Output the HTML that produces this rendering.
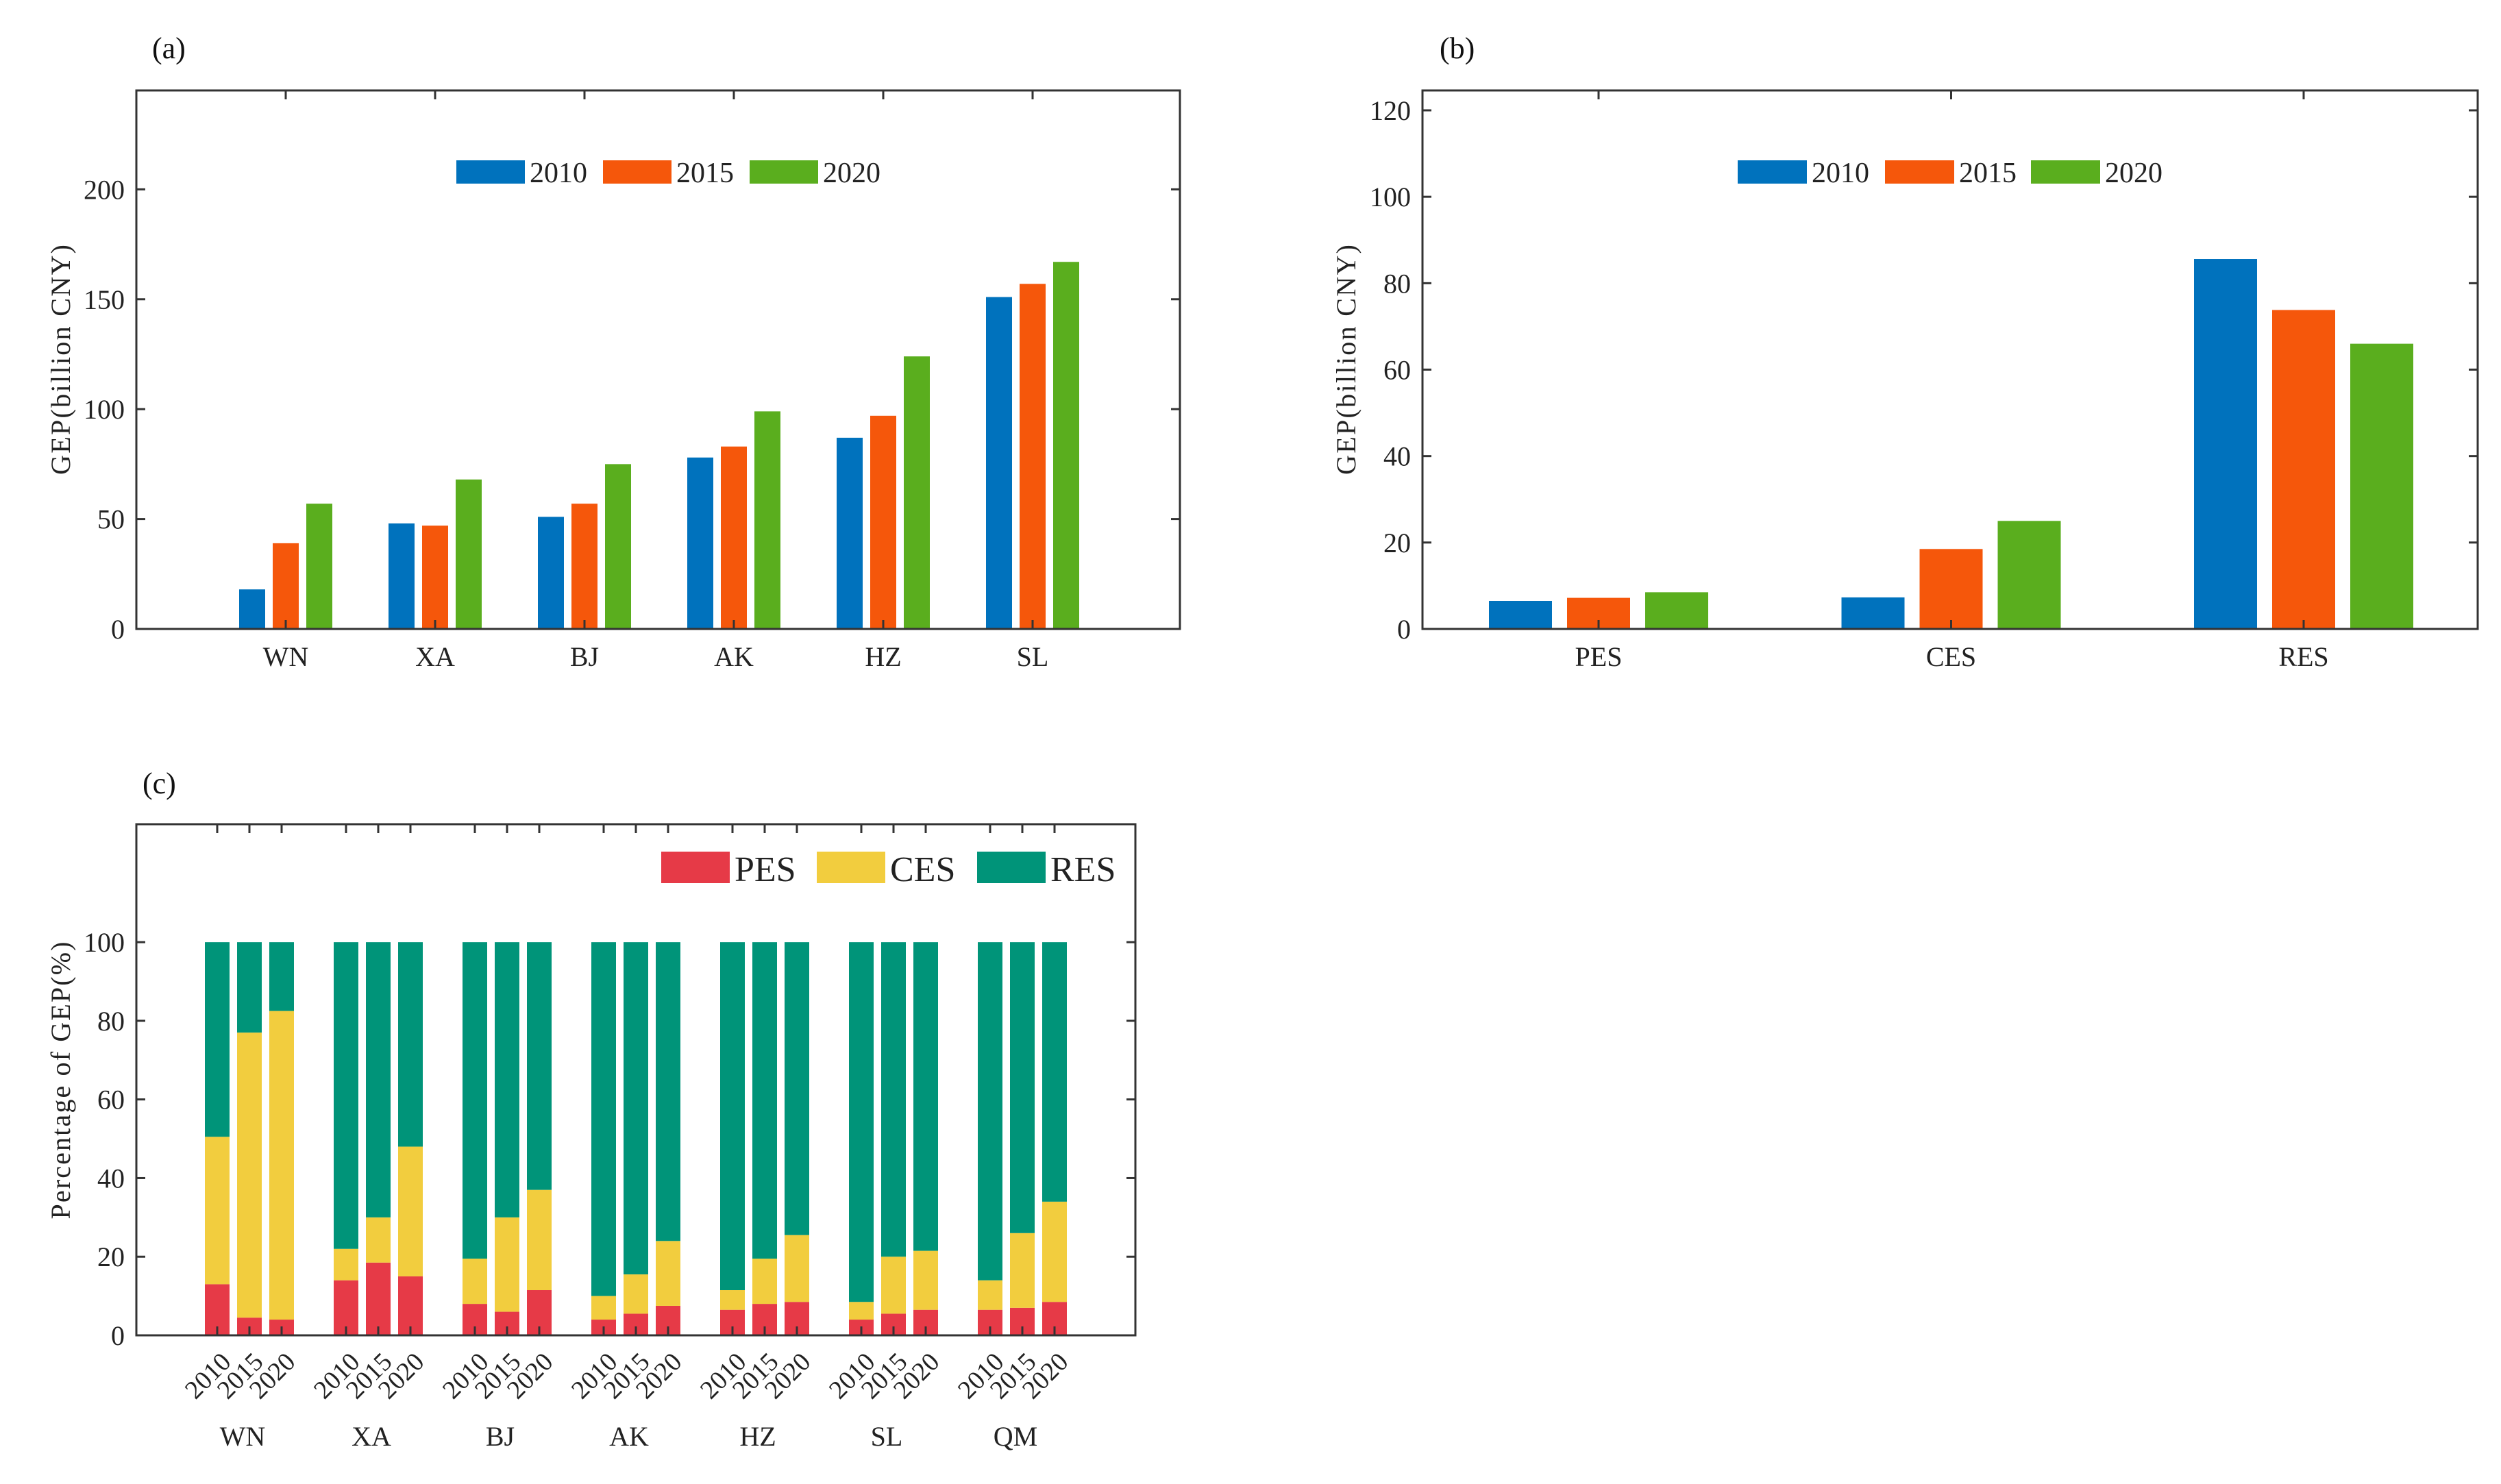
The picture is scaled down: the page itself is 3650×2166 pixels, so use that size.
<!DOCTYPE html>
<html><head><meta charset="utf-8">
<style>
html,body{margin:0;padding:0;background:#fff;}
svg{display:block;font-family:"Liberation Serif","Times New Roman",serif;}
</style></head>
<body>
<svg id="fig" width="3650" height="2166" viewBox="0 0 3650 2166" xmlns="http://www.w3.org/2000/svg">
<rect width="3650" height="2166" fill="#fff"/>
</svg>
<script>
// ---- Panel (a) data ----
const catsA = ["WN","XA","BJ","AK","HZ","SL"];
const yearsA = ["2010","2015","2020"];
const a2010 = [18, 48, 51, 78, 87, 151];
const a2015 = [39, 47, 57, 83, 97, 157];
const a2020 = [57, 68, 75, 99, 124, 167];
const ticksA = [0, 50, 100, 150, 200];
// ---- Panel (b) data ----
const catsB = ["PES","CES","RES"];
const b2010 = [6.5, 7.3, 85.6];
const b2015 = [7.2, 18.5, 73.8];
const b2020 = [8.5, 25, 66];
const ticksB = [0, 20, 40, 60, 80, 100, 120];
// ---- Panel (c) data ----
const catsC = ["WN","XA","BJ","AK","HZ","SL","QM"];
const yearsC = ["2010","2015","2020"];
const pesC = [13,4.5,4, 14,18.5,15, 8,6,11.5, 4,5.5,7.5, 6.5,8,8.5, 4,5.5,6.5, 6.5,7,8.5];
const cesC = [37.5,72.5,78.5, 8,11.5,33, 11.5,24,25.5, 6,10,16.5, 5,11.5,17, 4.5,14.5,15, 7.5,19,25.5];
const ticksC = [0, 20, 40, 60, 80, 100];

const NS = "http://www.w3.org/2000/svg";
const svg = document.getElementById("fig");
function el(tag, attrs, parent) {
  const e = document.createElementNS(NS, tag);
  for (const k in attrs) e.setAttribute(k, attrs[k]);
  (parent || svg).appendChild(e);
  return e;
}
function txt(s, attrs, parent) { const t = el("text", attrs, parent); t.textContent = s; return t; }

const AX = "#333";
function frame(g, L, R, T, B) {
  const r = el("rect", {x:L, y:T, width:R-L, height:B-T, fill:"none", stroke:AX, "stroke-width":3}, g);
  
  
}

// ================= Panel (a) =================
(function(){
  const g = el("g", {});
  
  
  const L=199, R=1722, T=132, B=918, ymax=245;
  const y = v => B - v/ymax*(B-T);
  const x0 = 417, dx = 218;
  const xc = i => x0 + i*dx;
  const lab = txt("(a)", {x:222, y:85, "font-size":44, fill:"#111"}, g);
  
  
  const series = [a2010, a2015, a2020];
  const cols = ["#0072BD", "#F5570B", "#5AAE1E"];
  series.forEach((s, k) => {
    s.forEach((v, i) => {
      const r = el("rect", {x: xc(i) + (k-1)*49 - 19, y: y(v), width: 38, height: B - y(v), fill: cols[k]}, g);
      
      
    });
  });
  frame(g, L, R, T, B);
  ticksA.forEach(t => {
    el("line", {x1:L, x2:L+13, y1:y(t), y2:y(t), stroke:AX, "stroke-width":3}, g);
    el("line", {x1:R, x2:R-13, y1:y(t), y2:y(t), stroke:AX, "stroke-width":3}, g);
    const tl = txt(String(t), {x:L-17, y:y(t)+14, "font-size":40, "text-anchor":"end", fill:"#222"}, g);
    
    
  });
  catsA.forEach((c, i) => {
    el("line", {x1:xc(i), x2:xc(i), y1:B, y2:B-13, stroke:"#333", "stroke-width":3}, g);
    el("line", {x1:xc(i), x2:xc(i), y1:T, y2:T+13, stroke:AX, "stroke-width":3}, g);
    const cl = txt(c, {x:xc(i), y:972, "font-size":40, "text-anchor":"middle", fill:"#222"}, g);
    
    
  });
  const yl = txt("GEP(billion CNY)", {x:0, y:0, "font-size":40, "text-anchor":"middle", fill:"#222", textLength:336, transform:"translate(102,525) rotate(-90)"}, g);
  
  
  const lx = [666, 880, 1094];
  yearsA.forEach((yr, k) => {
    const lr = el("rect", {x:lx[k], y:234, width:100, height:34, fill:cols[k]}, g);
    
    
    const lt = txt(yr, {x:lx[k]+107, y:266, "font-size":42, fill:"#222"}, g);
    
    
  });
})();

// ================= Panel (b) =================
(function(){
  const g = el("g", {});
  
  
  const L=2076, R=3616, T=132, B=918, ymax=124.6;
  const y = v => B - v/ymax*(B-T);
  const x0 = 2333, dx = 514.5;
  const xc = i => x0 + i*dx;
  const lab = txt("(b)", {x:2101, y:85, "font-size":44, fill:"#111"}, g);
  
  
  const series = [b2010, b2015, b2020];
  const cols = ["#0072BD", "#F5570B", "#5AAE1E"];
  series.forEach((s, k) => {
    s.forEach((v, i) => {
      const r = el("rect", {x: xc(i) + (k-1)*114 - 46, y: y(v), width: 92, height: B - y(v), fill: cols[k]}, g);
      
      
    });
  });
  frame(g, L, R, T, B);
  ticksB.forEach(t => {
    el("line", {x1:L, x2:L+13, y1:y(t), y2:y(t), stroke:AX, "stroke-width":3}, g);
    el("line", {x1:R, x2:R-13, y1:y(t), y2:y(t), stroke:AX, "stroke-width":3}, g);
    const tl = txt(String(t), {x:L-17, y:y(t)+14, "font-size":40, "text-anchor":"end", fill:"#222"}, g);
    
    
  });
  catsB.forEach((c, i) => {
    el("line", {x1:xc(i), x2:xc(i), y1:B, y2:B-13, stroke:"#333", "stroke-width":3}, g);
    el("line", {x1:xc(i), x2:xc(i), y1:T, y2:T+13, stroke:AX, "stroke-width":3}, g);
    const cl = txt(c, {x:xc(i), y:972, "font-size":40, "text-anchor":"middle", fill:"#222"}, g);
    
    
  });
  const yl = txt("GEP(billion CNY)", {x:0, y:0, "font-size":40, "text-anchor":"middle", fill:"#222", textLength:336, transform:"translate(1978,525) rotate(-90)"}, g);
  
  
  const lx = [2536, 2751, 2964];
  yearsA.forEach((yr, k) => {
    const lr = el("rect", {x:lx[k], y:234, width:101, height:34, fill:cols[k]}, g);
    
    
    const lt = txt(yr, {x:lx[k]+108, y:266, "font-size":42, fill:"#222"}, g);
    
    
  });
})();

// ================= Panel (c) =================
(function(){
  const g = el("g", {});
  
  
  const L=199, R=1657, T=1203, B=1949, ymax=130;
  const y = v => B - v/ymax*(B-T);
  const x0 = 317, unit = 47;
  const xb = j => x0 + (Math.floor(j/3)*4 + (j%3))*unit;
  const lab = txt("(c)", {x:208, y:1158, "font-size":44, fill:"#111"}, g);
  
  
  const cols = ["#E63A47", "#F2CD3E", "#009479"];
  pesC.forEach((p, j) => {
    const c = cesC[j];
    const segs = [[0, p], [p, p+c], [p+c, 100]];
    const names = ["pes","ces","res"];
    segs.forEach((s, k) => {
      const r = el("rect", {x: xb(j)-18, y: y(s[1]), width: 36, height: y(s[0]) - y(s[1]), fill: cols[k]}, g);
      
      
    });
  });
  frame(g, L, R, T, B);
  ticksC.forEach(t => {
    el("line", {x1:L, x2:L+13, y1:y(t), y2:y(t), stroke:AX, "stroke-width":3}, g);
    el("line", {x1:R, x2:R-13, y1:y(t), y2:y(t), stroke:AX, "stroke-width":3}, g);
    const tl = txt(String(t), {x:L-17, y:y(t)+14, "font-size":40, "text-anchor":"end", fill:"#222"}, g);
    
    
  });
  pesC.forEach((p, j) => {
    const xx = xb(j);
    el("line", {x1:xx, x2:xx, y1:B, y2:B-13, stroke:"#333", "stroke-width":3}, g);
    el("line", {x1:xx, x2:xx, y1:T, y2:T+13, stroke:AX, "stroke-width":3}, g);
    const yt = txt(yearsC[j%3], {x:0, y:0, "font-size":38, "text-anchor":"end", fill:"#222", transform:"translate(" + (xx+22) + ",1990) rotate(-45)"}, g);
    
    
  });
  catsC.forEach((c, i) => {
    const cl = txt(c, {x:xb(i*3+1)-10, y:2110, "font-size":40, "text-anchor":"middle", fill:"#222"}, g);
    
    
  });
  const yl = txt("Percentage of GEP(%)", {x:0, y:0, "font-size":40, "text-anchor":"middle", fill:"#222", textLength:405, transform:"translate(102,1577) rotate(-90)"}, g);
  
  
  const lnames = ["PES","CES","RES"];
  const lx = [965, 1192, 1426];
  lnames.forEach((n, k) => {
    const lr = el("rect", {x:lx[k], y:1243, width:100, height:46, fill:cols[k]}, g);
    
    
    const lt = txt(n, {x:lx[k]+107, y:1286, "font-size":52, fill:"#222"}, g);
    
    
  });
})();
</script>
</body></html>
